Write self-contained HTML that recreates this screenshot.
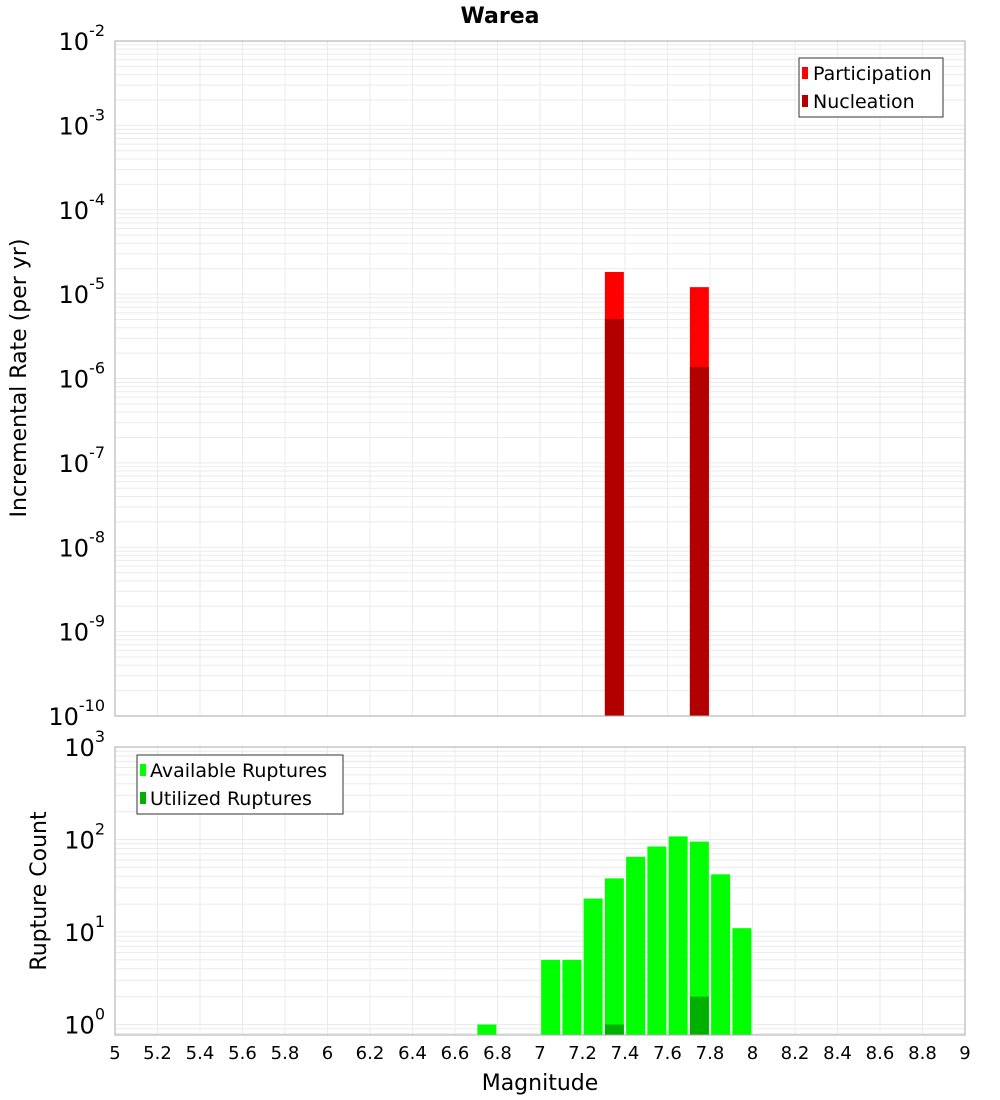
<!DOCTYPE html>
<html><head><meta charset="utf-8"><style>
body{margin:0;background:#fff;}
svg{display:block;font-family:"DejaVu Sans","Liberation Sans",sans-serif;}
</style></head><body>
<svg id="c" width="1000" height="1100" xmlns="http://www.w3.org/2000/svg">
<text x="500" y="23" text-anchor="middle" font-size="22" font-weight="bold">Warea</text>
<g id="topPlot"></g>
<g id="botPlot"></g>
<text transform="translate(26,378) rotate(-90)" text-anchor="middle" font-size="22">Incremental Rate (per yr)</text>
<text transform="translate(46,891) rotate(-90)" text-anchor="middle" font-size="22">Rupture Count</text>
<text x="540" y="1090" text-anchor="middle" font-size="22">Magnitude</text>
<g>
<rect x="799" y="58" width="144" height="59" fill="#fff" stroke="#333"/>
<rect x="802" y="67" width="6" height="12" fill="#ff0000"/>
<text x="813" y="80" font-size="19">Participation</text>
<rect x="802" y="95" width="6" height="12" fill="#b20000"/>
<text x="813" y="108" font-size="19">Nucleation</text>
</g>
<g>
<rect x="137" y="755" width="206" height="59" fill="#fff" stroke="#333"/>
<rect x="140" y="764" width="6" height="12" fill="#00ff00"/>
<text x="150" y="777" font-size="19">Available Ruptures</text>
<rect x="140" y="792" width="6" height="12" fill="#00b000"/>
<text x="150" y="805" font-size="19">Utilized Ruptures</text>
</g>
</svg>
<script>
const xTicks=["5","5.2","5.4","5.6","5.8","6","6.2","6.4","6.6","6.8","7","7.2","7.4","7.6","7.8","8","8.2","8.4","8.6","8.8","9"];
const rateMags=[7.35,7.75];
const participation=[1.83e-5,1.21e-5];
const nucleation=[5.07e-6,1.37e-6];
const countMags=[6.75,7.05,7.15,7.25,7.35,7.45,7.55,7.65,7.75,7.85,7.95];
const available=[1,5,5,23,38,65,84,108,95,42,11];
const utilizedMags=[7.35,7.75];
const utilized=[1,2];
const topExps=[-2,-3,-4,-5,-6,-7,-8,-9,-10];
const botExps=[3,2,1,0];

const NS="http://www.w3.org/2000/svg";
const X0=115,X1=965,M0=5,M1=9;
const xs=m=>X0+(m-M0)/(M1-M0)*(X1-X0);
const T0=41,T1=716,yT=v=>T0+(-2-Math.log10(v))/8*(T1-T0);
const B0=747,B1=1035,D=92.5,yB=v=>B0+(3-Math.log10(v))*D;
function mk(p,t,a){const e=document.createElementNS(NS,t);for(const k in a)e.setAttribute(k,a[k]);p.appendChild(e);return e;}
const svgEl=document.getElementById('c');
function plot(g,y0,y1,yf,lo,hi,minV){
  mk(g,'rect',{x:X0,y:y0,width:X1-X0,height:y1-y0,fill:'#fff'});
  for(let e=lo;e<hi;e++)for(let k=1;k<10;k++){const v=k*Math.pow(10,e);if(v<minV)continue;const y=yf(v);if(y<y0||y>y1)continue;
    const l=mk(g,'line',{x1:X0,x2:X1,y1:y,y2:y,stroke:'#ebebeb','stroke-width':1});
    
    }
  xTicks.forEach(t=>{const x=xs(+t);const l=mk(g,'line',{x1:x,x2:x,y1:y0,y2:y1,stroke:'#ebebeb'});
    
    });
}
const gTop=document.getElementById('topPlot'),gBot=document.getElementById('botPlot');
plot(gTop,T0,T1,yT,-10,-2,0);
plot(gBot,B0,B1,yB,-1,3,0.75);
const bw=19;
rateMags.forEach((m,i)=>{
  const x=xs(m)-bw/2;
  const p=mk(gTop,'rect',{x:x,y:yT(participation[i]),width:bw,height:T1-yT(participation[i]),fill:'#ff0000'});
  
  
  const n=mk(gTop,'rect',{x:x,y:yT(nucleation[i]),width:bw,height:T1-yT(nucleation[i]),fill:'#b20000'});
  
  
});
countMags.forEach((m,i)=>{
  const r=mk(gBot,'rect',{x:xs(m)-bw/2,y:yB(available[i]),width:bw,height:B1-yB(available[i]),fill:'#00ff00'});
  
  
});
utilizedMags.forEach((m,i)=>{
  const r=mk(gBot,'rect',{x:xs(m)-bw/2,y:yB(utilized[i]),width:bw,height:B1-yB(utilized[i]),fill:'#00b000'});
  
  
});
mk(gTop,'rect',{x:X0,y:T0,width:X1-X0,height:T1-T0,fill:'none',stroke:'#aaa'});
mk(gBot,'rect',{x:X0,y:B0,width:X1-X0,height:B1-B0,fill:'none',stroke:'#aaa'});
function expLabel(g,y,e){
  const t=mk(g,'text',{x:105,y:y+9,'text-anchor':'end','font-size':24});
  
  
  const b=document.createElementNS(NS,'tspan');b.textContent='10';t.appendChild(b);
  const s=document.createElementNS(NS,'tspan');s.setAttribute('dy','-14');s.setAttribute('font-size','16');s.textContent=String(e);t.appendChild(s);
}
topExps.forEach(e=>expLabel(gTop,yT(Math.pow(10,e)),e));
botExps.forEach(e=>expLabel(gBot,yB(Math.pow(10,e)),e));
xTicks.forEach(t=>{const l=mk(svgEl,'text',{x:xs(+t),y:1059,'text-anchor':'middle','font-size':18});
  l.textContent=t;
  
  });
</script>
</body></html>
